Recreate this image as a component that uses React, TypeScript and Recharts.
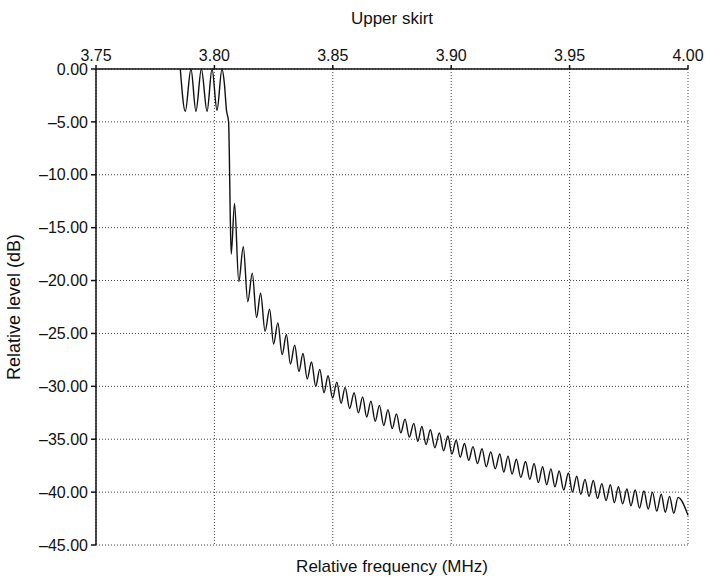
import React from 'react';
import { LineChart, Line, XAxis, YAxis, CartesianGrid } from 'recharts';

// passband ripple and the steep edge into the skirt
const passbandFreq = [3.7856, 3.7877, 3.7901, 3.7922, 3.7945, 3.7969, 3.799, 3.8011, 3.8032, 3.8042, 3.8051, 3.806, 3.8063, 3.8067, 3.8071];
const passbandLevel = [0, -4.0, 0, -4.0, 0, -4.0, 0, -3.9, 0, -1.35, -3.9, -5.0, -8.0, -14.0, -17.5];

// ripple peaks along the upper skirt
const skirtPeakFreq = [
  3.8085, 3.8122, 3.816, 3.8195, 3.8233, 3.8268, 3.8304, 3.8339, 3.8374, 3.841, 3.8445, 3.848,
  3.8517, 3.8552, 3.859, 3.8626, 3.8661, 3.8697, 3.8733, 3.8769, 3.8805, 3.8842, 3.8876, 3.8912,
  3.895, 3.8986, 3.9021, 3.9056, 3.9092, 3.913, 3.9167, 3.9205, 3.924, 3.9275, 3.9314, 3.935,
  3.9386, 3.9421, 3.9456, 3.9495, 3.953, 3.9565, 3.96, 3.9636, 3.9672, 3.9706, 3.9742, 3.9777,
  3.9814, 3.985, 3.9887, 3.9922, 3.9958,
];
const skirtPeakLevel = [
  -12.7, -16.8, -19.3, -21.2, -22.7, -24.0, -25.1, -26.1, -26.9, -27.7, -28.4, -29.0,
  -29.6, -30.1, -30.6, -31.0, -31.4, -31.8, -32.2, -32.6, -33.1, -33.5, -33.8, -34.1,
  -34.4, -34.7, -35.1, -35.4, -35.7, -35.9, -36.2, -36.4, -36.6, -36.9, -37.1, -37.3,
  -37.6, -37.8, -38.0, -38.2, -38.5, -38.8, -38.9, -39.2, -39.3, -39.5, -39.7, -39.8,
  -39.9, -40.0, -40.2, -40.4, -40.5,
];

// ripple troughs along the upper skirt
const skirtTroughFreq = [
  3.8103, 3.8141, 3.8178, 3.8214, 3.825, 3.8286, 3.8321, 3.8357, 3.8392, 3.8428, 3.8463, 3.8499,
  3.8535, 3.8571, 3.8608, 3.8643, 3.8679, 3.8715, 3.8751, 3.8787, 3.8823, 3.8859, 3.8894, 3.8931,
  3.8968, 3.9003, 3.9038, 3.9074, 3.9111, 3.9148, 3.9186, 3.9222, 3.9257, 3.9294, 3.9332, 3.9368,
  3.9403, 3.9438, 3.9475, 3.9512, 3.9547, 3.9582, 3.9618, 3.9654, 3.9689, 3.9724, 3.9759, 3.9795,
  3.9832, 3.9868, 3.9904, 3.994, 4.0,
];
const skirtTroughLevel = [
  -20.1, -22.0, -23.5, -24.8, -26.0, -27.0, -27.9, -28.6, -29.3, -30.0, -30.6, -31.1,
  -31.6, -32.1, -32.5, -32.9, -33.3, -33.7, -34.0, -34.4, -34.8, -35.2, -35.5, -35.8,
  -36.1, -36.4, -36.7, -37.0, -37.3, -37.6, -37.8, -38.1, -38.3, -38.6, -38.8, -39.1,
  -39.3, -39.5, -39.8, -40.0, -40.2, -40.4, -40.6, -40.8, -41.0, -41.1, -41.3, -41.5,
  -41.6, -41.8, -41.9, -42.0, -42.2,
];

const freqTicks = [3.75, 3.8, 3.85, 3.9, 3.95, 4.0];
const levelTicks = [0, -5, -10, -15, -20, -25, -30, -35, -40, -45];

const data = [
  ...passbandFreq.map((f, i) => ({ f, level: passbandLevel[i] })),
  ...skirtPeakFreq.map((f, i) => ({ f, level: skirtPeakLevel[i] })),
  ...skirtTroughFreq.map((f, i) => ({ f, level: skirtTroughLevel[i] })),
].sort((a, b) => a.f - b.f);

const font = '"Liberation Sans", Arial, Helvetica, sans-serif';
const fmtLevel = (v: number) => v.toFixed(2).replace('-', '\u2013');

const App = () => {
  return (
    <div style={{ position: 'absolute', left: 0, top: 0, width: 705, height: 577, background: '#fff', fontFamily: font }}>
      <LineChart
        width={705}
        height={577}
        data={data}
        margin={{ top: 0, right: 17, bottom: 32, left: 0 }}
        style={{ fontFamily: font }}
      >
        <CartesianGrid stroke="#444" strokeDasharray="1 2" strokeWidth={1} />
        <XAxis
          dataKey="f"
          type="number"
          orientation="top"
          domain={[3.75, 4.0]}
          ticks={freqTicks}
          tickFormatter={(v: number) => v.toFixed(2)}
          height={69}
          tickSize={4}
          tickMargin={4}
          stroke="#111"
          strokeWidth={1.5}
          tick={{ fill: '#111', fontSize: 16 }}
          label={{ value: 'Upper skirt', position: 'insideTop', offset: 12, fill: '#111', fontSize: 17 }}
        />
        <YAxis
          type="number"
          domain={[-45, 0]}
          ticks={levelTicks}
          tickFormatter={fmtLevel}
          width={96}
          tickSize={5}
          tickMargin={3}
          stroke="#111"
          strokeWidth={1.5}
          tick={{ fill: '#111', fontSize: 16 }}
          label={{
            value: 'Relative level (dB)',
            angle: -90,
            position: 'insideLeft',
            offset: 14,
            fill: '#111',
            fontSize: 18,
            style: { textAnchor: 'middle' },
          }}
        />
        <Line
          type="monotone"
          dataKey="level"
          stroke="#111"
          strokeWidth={1.4}
          dot={false}
          isAnimationActive={false}
        />
      </LineChart>
      <div
        style={{
          position: 'absolute',
          left: 96,
          width: 592,
          top: 557,
          textAlign: 'center',
          fontSize: 17,
          lineHeight: '19px',
          color: '#111',
        }}
      >
        Relative frequency (MHz)
      </div>
    </div>
  );
};

export default App;
